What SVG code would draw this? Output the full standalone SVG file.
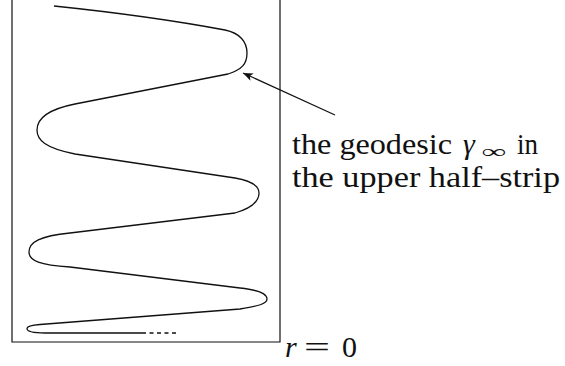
<svg xmlns="http://www.w3.org/2000/svg" width="565" height="366" viewBox="0 0 565 366">
<style>
.ln{fill:none;stroke:#111;stroke-width:1.2}
.cv{fill:none;stroke:#111;stroke-width:1.3;stroke-linejoin:round;stroke-linecap:butt}
</style>
<defs>
<marker id="ah" viewBox="0 0 10 8" refX="10" refY="4" markerWidth="10" markerHeight="8" markerUnits="userSpaceOnUse" orient="auto">
<path d="M0,0 L10,4 L0,8 L2.5,4 Z" fill="#111"/>
</marker>
</defs>
<rect width="565" height="366" fill="#fff"/>
<g id="strip">
<path class="ln" d="M12,0 V342 H280 V0"/>
</g>
<g id="geodesic">
<path class="cv" d="M54,6 Q150,16 225,30 C240,33 247,42 247,53 C247,64 242,69.5 228,74 L75,104 C45,110 37,120 37,130 C37,140 45,148 75,154 L235,178 C252,181 259,186 259,193 C259,201 252,208 235,213 L70,233 C40,236 29,242 29,252 C29,261 40,265 70,267 L240,288 C258,290 267,293 267,299 C267,304 258,306 240,309 L40,324.5 C30,325.3 27,326.5 27,328.5 C27,331 32,333 45,333 L146,333"/>
<path class="cv" d="M149.5,333 H177" stroke-dasharray="4,3.5"/>
</g>
<g id="connectors">
<path class="ln" d="M335,115 L243,73" marker-end="url(#ah)"/>
</g>
<g id="label" font-family="'Liberation Serif', 'DejaVu Serif', serif" font-size="30" fill="#111">
<text x="292" y="154" textLength="160" lengthAdjust="spacingAndGlyphs">the geodesic</text>
<text x="463" y="154" font-style="italic">γ</text>
<text x="481" y="158" font-size="19" textLength="25" lengthAdjust="spacingAndGlyphs">∞</text>
<text x="517" y="154" textLength="21" lengthAdjust="spacingAndGlyphs">in</text>
<text x="292" y="187" textLength="268" lengthAdjust="spacingAndGlyphs">the upper half–strip</text>
</g>
<g id="r0" font-family="'Liberation Serif', 'DejaVu Serif', serif" font-size="30" fill="#111">
<text x="285" y="357" font-style="italic">r</text>
<text x="304" y="357" textLength="26" lengthAdjust="spacingAndGlyphs">=</text>
<text x="342" y="357">0</text>
</g>
</svg>
